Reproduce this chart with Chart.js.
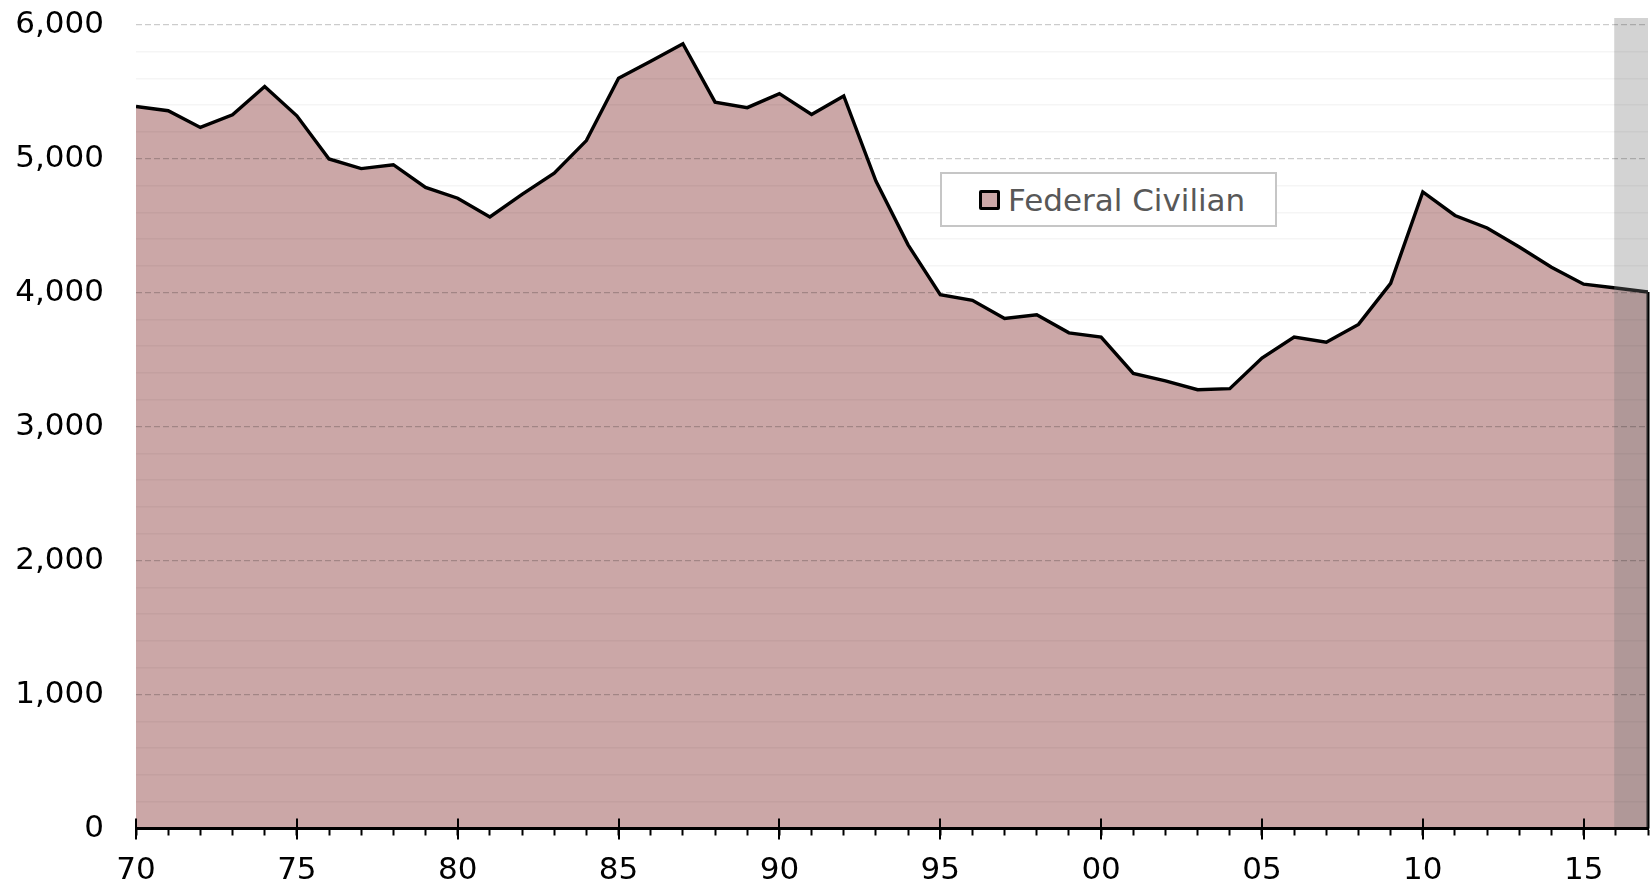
<!DOCTYPE html>
<html>
<head>
<meta charset="utf-8">
<script src="https://cdn.jsdelivr.net/npm/chart.js@4.4.1/dist/chart.umd.min.js"></script>
<style>
  body { margin: 0; background: #fff; }
  #wrap { position: relative; width: 1650px; height: 887px; }
  #legend {
    position: absolute; left: 940px; top: 172px; width: 337px; height: 55px;
    box-sizing: border-box; border: 2px solid #c6c6c6; background: #fff;
    display: flex; align-items: center; padding-left: 37px;
    font-family: 'DejaVu Sans', sans-serif; font-size: 31px; color: #585858;
  }
  #legend .sw {
    width: 21px; height: 20px; box-sizing: border-box; border: 3px solid #000;
    background: #cba7a7; margin-right: 8px; border-radius: 2px;
  }
</style>
</head>
<body>
<div id="wrap">
  <canvas id="chart" width="1650" height="887"></canvas>
  <div id="legend"><span class="sw"></span><span>Federal Civilian</span></div>
</div>
<script>
// --- Datos ---
const years = [1970, 1971, 1972, 1973, 1974, 1975, 1976, 1977, 1978, 1979,
               1980, 1981, 1982, 1983, 1984, 1985, 1986, 1987, 1988, 1989,
               1990, 1991, 1992, 1993, 1994, 1995, 1996, 1997, 1998, 1999,
               2000, 2001, 2002, 2003, 2004, 2005, 2006, 2007, 2008, 2009,
               2010, 2011, 2012, 2013, 2014, 2015, 2016, 2017];
const federalCivilian = [5390, 5358, 5233, 5328, 5539, 5320, 4998, 4926, 4955, 4785,
                         4705, 4565, 4733, 4892, 5135, 5600, 5728, 5858, 5422, 5381,
                         5485, 5330, 5468, 4833, 4357, 3984, 3943, 3807, 3835, 3700,
                         3668, 3397, 3342, 3275, 3283, 3512, 3669, 3630, 3763, 4069,
                         4752, 4576, 4483, 4340, 4190, 4063, 4035, 4005];
const yTicks = [0, 1000, 2000, 3000, 4000, 5000, 6000];
const yMax = 6050;
const shadeStart = 2015.95;   // zona sombreada (proyección)
const shadeEnd = 2017;

const fmt = (v) => v.toString().replace(/\B(?=(\d{3})+(?!\d))/g, ",");

// --- Plugin: borde derecho del área, sombreado y marcas mayores del eje x ---
const extras = {
  id: 'extras',
  afterDatasetsDraw(chart) {
    const { ctx, scales } = chart;
    const meta = chart.getDatasetMeta(0);
    const last = meta.data[meta.data.length - 1];
    ctx.save();
    // cierre vertical del área en el último punto
    ctx.strokeStyle = '#000';
    ctx.lineWidth = 3;
    ctx.beginPath();
    ctx.moveTo(last.x, last.y);
    ctx.lineTo(last.x, scales.y.getPixelForValue(0));
    ctx.stroke();
    // sombreado gris
    const x0 = scales.x.getPixelForValue(shadeStart);
    const x1 = scales.x.getPixelForValue(shadeEnd);
    const yTop = scales.y.getPixelForValue(yMax);
    const yBot = scales.y.getPixelForValue(0);
    ctx.fillStyle = 'rgba(120,120,120,0.33)';
    ctx.fillRect(x0, yTop, x1 - x0, yBot - yTop);
    ctx.restore();
  },
  afterDraw(chart) {
    const { ctx, scales } = chart;
    const xs = scales.x;
    const yb = scales.y.getPixelForValue(0);
    ctx.save();
    ctx.strokeStyle = '#000';
    ctx.lineWidth = 2;
    xs.ticks.forEach(t => {
      if (t.value % 5 !== 0) return;
      const px = Math.round(xs.getPixelForValue(t.value));
      ctx.beginPath();
      ctx.moveTo(px, yb - 10);
      ctx.lineTo(px, yb + 11);
      ctx.stroke();
    });
    ctx.restore();
  }
};

const ctx = document.getElementById('chart').getContext('2d');
new Chart(ctx, {
  type: 'line',
  data: {
    datasets: [{
      label: 'Federal Civilian',
      data: years.map((yr, i) => ({ x: yr, y: federalCivilian[i] })),
      borderColor: '#000',
      borderWidth: 3.4,
      borderJoinStyle: 'miter',
      backgroundColor: '#cba7a7',
      fill: 'origin',
      pointRadius: 0,
      tension: 0
    }]
  },
  options: {
    responsive: false,
    animation: false,
    layout: { padding: { top: 18, left: 15, right: 2, bottom: 0 } },
    plugins: {
      legend: { display: false },
      tooltip: { enabled: false }
    },
    scales: {
      x: {
        type: 'linear',
        min: years[0],
        max: years[years.length - 1],
        afterFit: s => { s.height = 58.5; s.paddingLeft = 0; s.paddingRight = 0; },
        border: { display: true, color: '#000', width: 3, z: 2 },
        grid: { drawOnChartArea: false, drawTicks: true, tickLength: 7, tickWidth: 2, tickColor: '#000', z: 2 },
        ticks: {
          stepSize: 1,
          autoSkip: false,
          maxRotation: 0,
          padding: 17,
          color: '#000',
          font: { family: 'DejaVu Sans', size: 31 },
          callback: v => (v % 5 === 0 ? String(v % 100).padStart(2, '0') : '')
        }
      },
      y: {
        min: 0,
        max: yMax,
        position: 'left',
        afterBuildTicks: s => { s.ticks = yTicks.map(v => ({ value: v })); },
        afterFit: s => { s.width = 121; s.paddingTop = 0; s.paddingBottom = 0; },
        border: { display: false, dash: [6, 3] },
        grid: {
          z: 1,
          drawTicks: false,
          color: c => (c.tick && c.tick.value === 0 ? 'rgba(0,0,0,0)' : 'rgba(0,0,0,0.2)'),
          lineWidth: 1.3
        },
        ticks: {
          padding: 32,
          color: '#000',
          font: { family: 'DejaVu Sans', size: 31 },
          callback: v => fmt(v)
        }
      },
      yMinor: {
        min: 0,
        max: yMax,
        position: 'right',
        afterBuildTicks: s => { s.ticks = s.ticks.filter(t => t.value % 200 === 0 && t.value % 1000 !== 0); },
        afterFit: s => { s.width = 0; s.paddingTop = 0; s.paddingBottom = 0; },
        border: { display: false },
        grid: { z: 1, drawTicks: false, color: 'rgba(0,0,0,0.04)', lineWidth: 1.5 },
        ticks: { display: false, stepSize: 200 }
      }
    }
  },
  plugins: [extras]
});
</script>
</body>
</html>
